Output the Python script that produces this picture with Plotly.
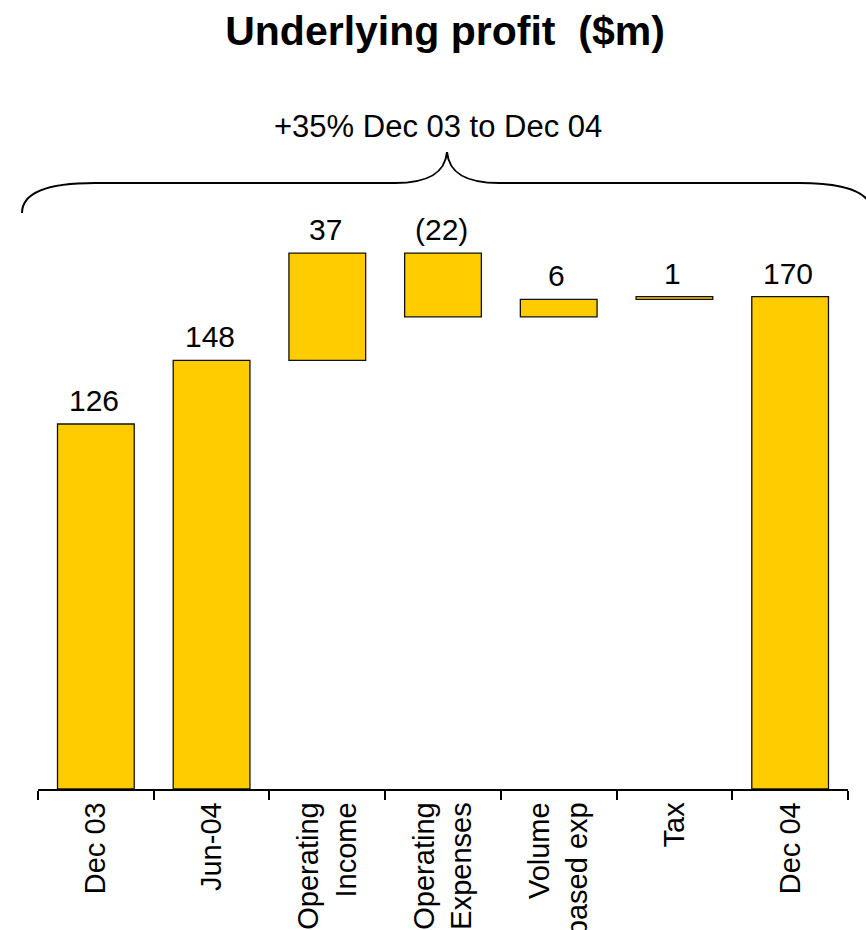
import plotly.graph_objects as go

# Underlying profit bridge, Dec 03 -> Dec 04 ($m)
categories = ["Dec 03", "Jun-04", "Operating<br>Income", "Operating<br>Expenses",
              "Volume<br>based exp", "Tax", "Dec 04"]
measures = ["absolute", "absolute", "relative", "relative", "relative", "relative", "total"]
values = [126, 148, 37, -22, 6, 1, 170]
value_labels = ["126", "148", "37", "(22)", "6", "1", "170"]
bracket_text = "+35% Dec 03 to Dec 04"
title_text = "Underlying profit  ($m)"

BAR = "#FFCC00"
EDGE = "#111111"
FONT = "Liberation Sans, Arial, sans-serif"

W, H = 866, 930
ML, MR, MT, MB = 38, 18, 150, 141
Y_MAX = 220.6

fig = go.Figure()
fig.add_trace(go.Waterfall(
    x=categories,
    y=values,
    measure=measures,
    increasing=dict(marker=dict(color=BAR, line=dict(color=EDGE, width=1.3))),
    decreasing=dict(marker=dict(color=BAR, line=dict(color=EDGE, width=1.3))),
    totals=dict(marker=dict(color=BAR, line=dict(color=EDGE, width=1.3))),
    connector=dict(visible=False),
    textinfo="none",
    hoverinfo="skip",
))

# value labels sit above the top edge of each bar
running = 0
for cat, m, v, lab in zip(categories, measures, values, value_labels):
    if m == "absolute":
        start, end = 0, v
        running = v
    elif m == "relative":
        start, end = running, running + v
        running = end
    else:
        start, end = 0, running
    top = max(start, end)
    fig.add_annotation(x=cat, y=top, xref="x", yref="y", text=lab, showarrow=False,
                       yanchor="bottom", yshift=5, xshift=-2,
                       font=dict(family=FONT, size=30, color="black"))

# curly bracket spanning the whole bridge
pw, ph = W - ML - MR, H - MT - MB


def px(xp):
    return (xp - ML) / pw


def py(yp):
    return (H - MB - yp) / ph


def pt(xp, yp):
    return f"{px(xp):.5f},{py(yp):.5f}"


path = (f"M {pt(22, 213)} C {pt(22, 194)} {pt(45, 183)} {pt(95, 183)} "
        f"L {pt(395, 183)} C {pt(427, 183)} {pt(445, 174)} {pt(447, 152)} "
        f"C {pt(449, 174)} {pt(467, 183)} {pt(499, 183)} "
        f"L {pt(799, 183)} C {pt(849, 183)} {pt(872, 194)} {pt(872, 213)}")
fig.add_shape(type="path", path=path, xref="paper", yref="paper",
              line=dict(color="black", width=2))

fig.add_annotation(x=px(438), y=py(127), xref="paper", yref="paper",
                   text=bracket_text, showarrow=False,
                   xanchor="center", yanchor="middle",
                   font=dict(family=FONT, size=31, color="black"))

fig.update_layout(
    width=W, height=H,
    margin=dict(l=ML, r=MR, t=MT, b=MB, autoexpand=False),
    paper_bgcolor="white", plot_bgcolor="white",
    showlegend=False,
    waterfallgap=0.337,
    title=dict(text=f"<b>{title_text}</b>", x=445 / W, xanchor="center",
               y=1 - 31 / H, yanchor="middle", yref="container",
               font=dict(family=FONT, size=41, color="black")),
    xaxis=dict(type="category", showgrid=False, zeroline=False,
               showline=True, linecolor="black", linewidth=1.5,
               ticks="outside", tickson="boundaries", ticklen=9,
               tickcolor="black", tickwidth=1.5,
               tickangle=-90, tickfont=dict(family=FONT, size=29, color="black")),
    yaxis=dict(range=[0, Y_MAX], visible=False, showgrid=False, zeroline=False),
)

fig.write_html("out.html")
